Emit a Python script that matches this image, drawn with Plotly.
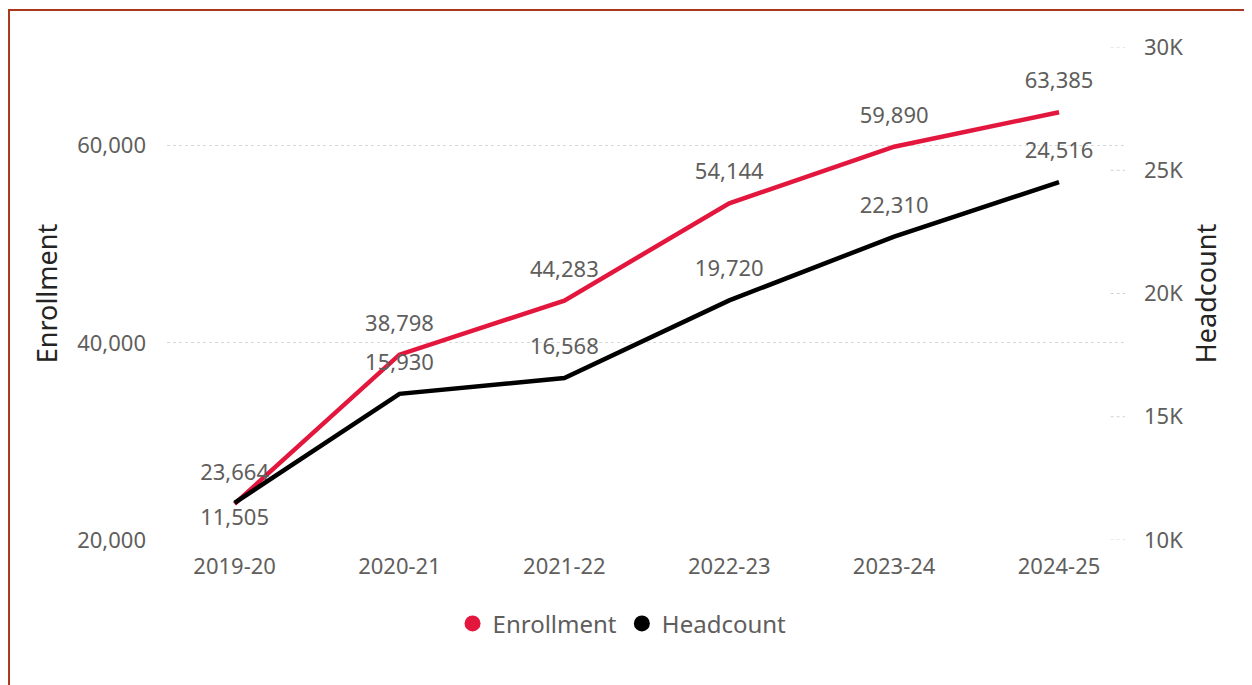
import plotly.graph_objects as go

# ───── datos ──────────────────────────────────────
years = ["2019-20", "2020-21", "2021-22", "2022-23", "2023-24", "2024-25"]
enrollment = [23664, 38798, 44283, 54144, 59890, 63385]
headcount = [11505, 15930, 16568, 19720, 22310, 24516]

enroll_ticks = [20000, 40000, 60000]
head_ticks = [10000, 15000, 20000, 25000, 30000]
head_tick_labels = ["10K", "15K", "20K", "25K", "30K"]

RED = "#E3173E"
BLACK = "#000000"
GRAY = "#605E5C"
DARK = "#252423"
FONT = "Noto Sans"

fig = go.Figure()

# --- Enrollment (rojo) ---
fig.add_scatter(
    x=years, y=enrollment, name="Enrollment", yaxis="y",
    mode="lines+markers+text", line=dict(color=RED, width=4.5),
    marker=dict(size=28, opacity=0, color=RED),
    text=[f"{v:,}" for v in enrollment], textposition="top center",
    textfont=dict(family=FONT, size=22, color=GRAY),
    showlegend=False, cliponaxis=False,
)

# --- Headcount (negro) ---
fig.add_scatter(
    x=years, y=headcount, name="Headcount", yaxis="y2",
    mode="lines+markers+text", line=dict(color=BLACK, width=4.5),
    marker=dict(size=[7] + [28] * (len(years) - 1), opacity=0, color=BLACK),
    text=[f"{v:,}" for v in headcount],
    textposition=["bottom center"] + ["top center"] * (len(years) - 1),
    textfont=dict(family=FONT, size=22, color=GRAY),
    showlegend=False, cliponaxis=False,
)

# leyenda con círculos
for name, col in [("Enrollment", RED), ("Headcount", BLACK)]:
    fig.add_scatter(x=[None], y=[None], mode="markers", name=name,
                    marker=dict(size=16, color=col, symbol="circle"))

# rayitas punteadas del eje derecho
for t in head_ticks:
    fig.add_shape(type="line", xref="paper", yref="y2", x0=0.985, x1=1.0,
                  y0=t, y1=t, line=dict(color="#D0D0D0", width=1, dash="dot"))

# borde
fig.add_shape(type="rect", xref="paper", yref="paper",
              x0=-0.1649, x1=1.1294, y0=-0.4, y1=1.075,
              line=dict(color="#A9381F", width=2), layer="above")

fig.update_layout(
    width=1244, height=677,
    margin=dict(l=159, r=127, t=39, b=145),
    paper_bgcolor="white", plot_bgcolor="white",
    font=dict(family=FONT, size=22, color=GRAY),
    xaxis=dict(
        type="category", range=[-0.41, 5.4], showgrid=False, zeroline=False,
        showline=False, tickfont=dict(size=22, color=GRAY), ticklabelstandoff=11,
    ),
    yaxis=dict(
        range=[20000, 70000], tickvals=enroll_ticks, tickformat=",",
        showgrid=True, gridcolor="#D9D9D9", griddash="dot", gridwidth=1,
        zeroline=False, showline=False, ticklabelstandoff=20,
        tickfont=dict(size=22, color=GRAY),
        title=dict(text="Enrollment", font=dict(size=27, color=DARK), standoff=11),
    ),
    yaxis2=dict(
        overlaying="y", side="right", range=[10000, 30000],
        tickvals=head_ticks, ticktext=head_tick_labels,
        showgrid=False, zeroline=False, showline=False, ticklabelstandoff=18,
        tickfont=dict(size=22, color=GRAY),
        title=dict(text="Headcount", font=dict(size=27, color=DARK), standoff=14),
    ),
    legend=dict(orientation="h", x=0.475, xanchor="center", y=-0.17, yanchor="middle",
                font=dict(size=24, color=GRAY), itemwidth=30, tracegroupgap=0),
)

fig.write_html("out.html")
